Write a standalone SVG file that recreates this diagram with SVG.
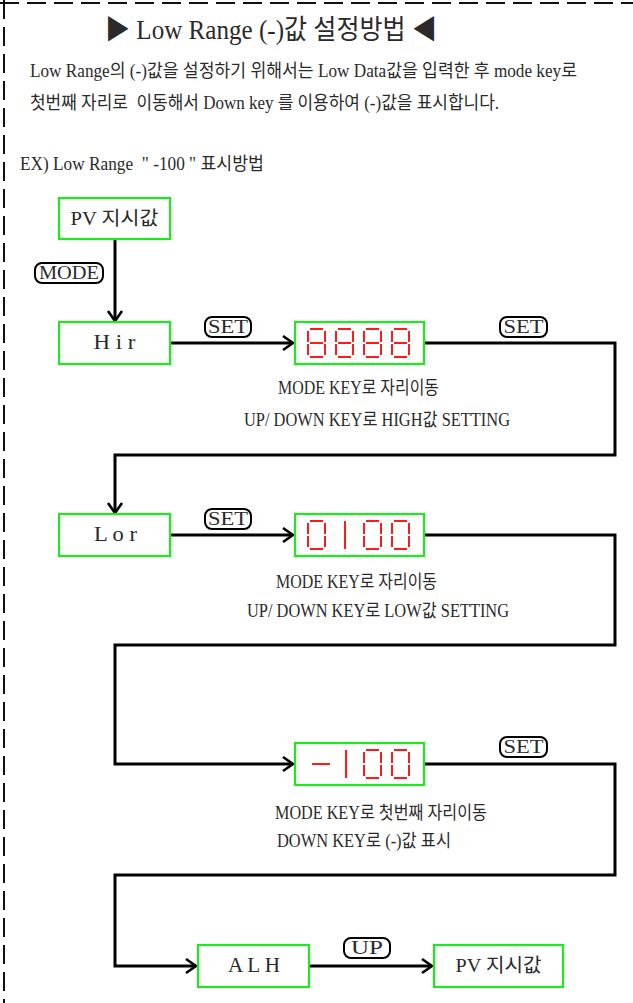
<svg xmlns="http://www.w3.org/2000/svg" xmlns:xlink="http://www.w3.org/1999/xlink" width="633" height="1003" viewBox="0 0 633 1003">
<style>
.t{font-family:"Liberation Serif","Noto Sans CJK KR",serif;fill:#2a2a2a;white-space:pre}
.box{fill:#fff;stroke:#1ee81e;stroke-width:2.2}
.pill{fill:#fff;stroke:#000;stroke-width:2}
.conn{fill:none;stroke:#000;stroke-width:3;stroke-linejoin:miter}
.seg{fill:none;stroke:#ff1a1a;stroke-width:2}
.bd{fill:none;stroke:#111;stroke-width:2;stroke-dasharray:19 8}
</style>
<defs>
<marker id="arr" markerUnits="userSpaceOnUse" markerWidth="20" markerHeight="20" refX="0" refY="0" viewBox="-12 -10 14 20" orient="auto">
<path d="M-10,-7 L0,0 L-10,7" fill="none" stroke="#000" stroke-width="2.6"/>
</marker>
<g id="d0" class="seg">
<path d="M2,0H15M17,2V13M17,15V26M2,28H15M0,15V26M0,2V13"/>
</g>
<g id="d8" class="seg">
<path d="M2,0H15M17,2V13M17,15V26M2,28H15M0,15V26M0,2V13M2,14H15"/>
</g>
</defs>
<rect width="633" height="1003" fill="#fff"/>
<g id="border">
<path class="bd" d="M0,3H633"/>
<path class="bd" d="M4,0V1003"/>
</g>
<g id="texts">
<text class="t" x="105" y="39" font-size="27" textLength="332" lengthAdjust="spacingAndGlyphs">▶ Low Range (-)값 설정방법 ◀</text>
<text class="t" x="30" y="77" font-size="18" textLength="547" lengthAdjust="spacingAndGlyphs">Low Range의 (-)값을 설정하기 위해서는 Low Data값을 입력한 후 mode key로</text>
<text class="t" x="30" y="109" font-size="18" textLength="469" lengthAdjust="spacingAndGlyphs">첫번째 자리로  이동해서 Down key 를 이용하여 (-)값을 표시합니다.</text>
<text class="t" x="20" y="170" font-size="18" textLength="244" lengthAdjust="spacingAndGlyphs">EX) Low Range  " -100 " 표시방법</text>
<text class="t" x="278" y="394" font-size="18" textLength="161" lengthAdjust="spacingAndGlyphs">MODE KEY로 자리이동</text>
<text class="t" x="244" y="426" font-size="18" textLength="266" lengthAdjust="spacingAndGlyphs">UP/ DOWN KEY로 HIGH값 SETTING</text>
<text class="t" x="276" y="588" font-size="18" textLength="161" lengthAdjust="spacingAndGlyphs">MODE KEY로 자리이동</text>
<text class="t" x="247" y="617" font-size="18" textLength="262" lengthAdjust="spacingAndGlyphs">UP/ DOWN KEY로 LOW값 SETTING</text>
<text class="t" x="275" y="819" font-size="18" textLength="212" lengthAdjust="spacingAndGlyphs">MODE KEY로 첫번째 자리이동</text>
<text class="t" x="277" y="847" font-size="18" textLength="174" lengthAdjust="spacingAndGlyphs">DOWN KEY로 (-)값 표시</text>
</g>
<g id="connectors">
<path class="conn" d="M115,239V321" marker-end="url(#arr)"/>
<path class="conn" d="M170,343H293" marker-end="url(#arr)"/>
<path class="conn" d="M424,343H615V455H115V513" marker-end="url(#arr)"/>
<path class="conn" d="M170,535H293" marker-end="url(#arr)"/>
<path class="conn" d="M424,535H615V645H115V764H293" marker-end="url(#arr)"/>
<path class="conn" d="M424,764H615V875H115V966H196" marker-end="url(#arr)"/>
<path class="conn" d="M309,966H432" marker-end="url(#arr)"/>
</g>
<g id="labels">
<g id="lbl-mode"><rect class="pill" x="35" y="263" width="68" height="20" rx="7"/><text class="t" x="69" y="279" font-size="18" text-anchor="middle" textLength="60" lengthAdjust="spacingAndGlyphs">MODE</text></g>
<g id="lbl-set1"><rect class="pill" x="205" y="317" width="46" height="20" rx="7"/><text class="t" x="228" y="333" font-size="18" text-anchor="middle" textLength="40" lengthAdjust="spacingAndGlyphs">SET</text></g>
<g id="lbl-set2"><rect class="pill" x="500" y="317" width="47" height="20" rx="7"/><text class="t" x="523.5" y="333" font-size="18" text-anchor="middle" textLength="40" lengthAdjust="spacingAndGlyphs">SET</text></g>
<g id="lbl-set3"><rect class="pill" x="205" y="509" width="46" height="20" rx="7"/><text class="t" x="228" y="525" font-size="18" text-anchor="middle" textLength="40" lengthAdjust="spacingAndGlyphs">SET</text></g>
<g id="lbl-set4"><rect class="pill" x="500" y="737" width="47" height="20" rx="7"/><text class="t" x="523.5" y="753" font-size="18" text-anchor="middle" textLength="40" lengthAdjust="spacingAndGlyphs">SET</text></g>
<g id="lbl-up"><rect class="pill" x="344" y="938" width="46" height="20" rx="7"/><text class="t" x="367" y="954" font-size="18" text-anchor="middle" textLength="32" lengthAdjust="spacingAndGlyphs">UP</text></g>
</g>
<g id="node-pv1"><rect class="box" x="59" y="198" width="111" height="41"/><text class="t" x="114.5" y="225" font-size="19" text-anchor="middle" textLength="88" lengthAdjust="spacingAndGlyphs">PV 지시값</text></g>
<g id="node-hir"><rect class="box" x="59" y="322" width="111" height="42"/><text class="t" x="114.5" y="349" font-size="20" text-anchor="middle" textLength="42" lengthAdjust="spacingAndGlyphs">H i r</text></g>
<g id="node-8888"><rect class="box" x="295" y="322" width="129" height="42"/>
<use xlink:href="#d8" x="308" y="329"/><use xlink:href="#d8" x="336" y="329"/><use xlink:href="#d8" x="364" y="329"/><use xlink:href="#d8" x="392" y="329"/></g>
<g id="node-lor"><rect class="box" x="59" y="514" width="111" height="42"/><text class="t" x="115.5" y="541" font-size="20" text-anchor="middle" textLength="43" lengthAdjust="spacingAndGlyphs">L o r</text></g>
<g id="node-0100"><rect class="box" x="295" y="514" width="129" height="42"/>
<use xlink:href="#d0" x="308" y="521"/><path class="seg" d="M345,521V549"/><use xlink:href="#d0" x="364" y="521"/><use xlink:href="#d0" x="392" y="521"/></g>
<g id="node-m100"><rect class="box" x="295" y="743" width="129" height="42"/>
<path class="seg" d="M312,764H330M346,750V778"/><use xlink:href="#d0" x="364" y="750"/><use xlink:href="#d0" x="392" y="750"/></g>
<g id="node-alh"><rect class="box" x="198" y="945" width="111" height="42"/><text class="t" x="254" y="972" font-size="20" text-anchor="middle" textLength="52" lengthAdjust="spacingAndGlyphs">A L H</text></g>
<g id="node-pv2"><rect class="box" x="434" y="945" width="129" height="42"/><text class="t" x="498.5" y="972" font-size="19" text-anchor="middle" textLength="86" lengthAdjust="spacingAndGlyphs">PV 지시값</text></g>
</svg>
